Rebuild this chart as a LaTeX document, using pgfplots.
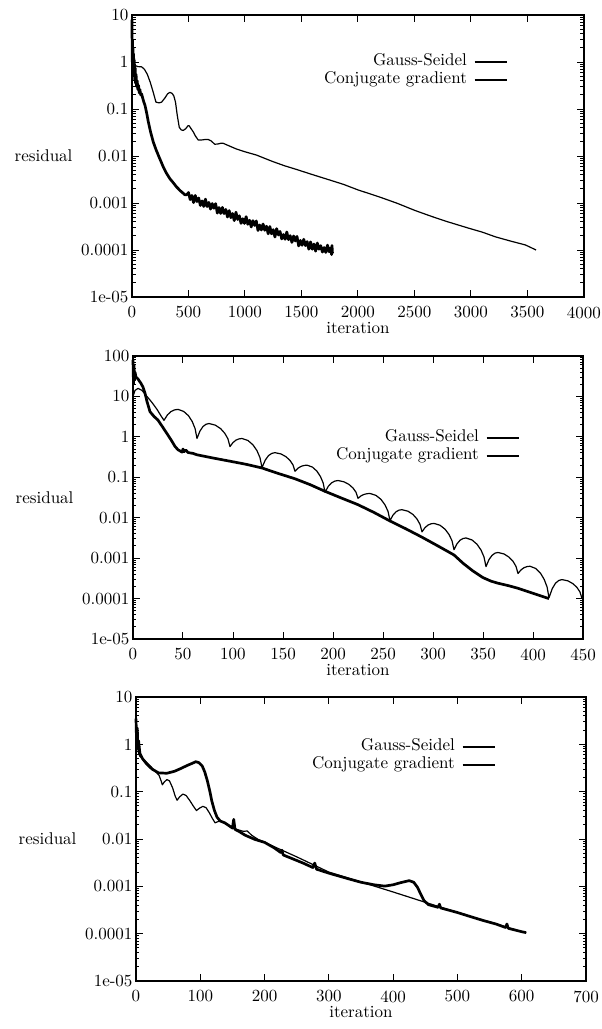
\documentclass[border=0pt]{standalone}
\usepackage{fontspec}
\setmainfont{lmroman10-regular.otf}
\usepackage{pgfplots}
\pgfplotsset{compat=1.18}
\tikzset{
 gs/.style={black, line width=1.2pt, line join=round},
 cg/.style={black, line width=2.7pt, line join=round},
}
\begin{document}
\begin{tikzpicture}
\path[use as bounding box] (0pt,0pt) rectangle (602pt,-1029pt);
% ---------------- plot 1 ----------------
\begin{axis}[at={(132pt,-297pt)}, anchor=south west,
  scale only axis, width=452pt, height=282pt,
  ymode=log, xmin=0, xmax=4000, ymin=1e-5, ymax=10,
  clip=false,
  font=\fontsize{17}{20}\selectfont,
  axis line style={line width=1.5pt},
  tick style={black, line width=1pt},
  major tick length=7pt, minor tick length=3.5pt, tick align=inside,
  xtick={0,500,1000,1500,2000,2500,3000,3500,4000},
  xticklabels={0,500,1000,1500,2000,2500,3000,3500,4000},
  xticklabel style={yshift=-6pt},
  ytick={1e-5,1e-4,1e-3,1e-2,1e-1,1,10},
  yticklabels={1e-05,0.0001,0.001,0.01,0.1,1,10},
  minor ytick={2e-5,3e-5,4e-5,5e-5,6e-5,7e-5,8e-5,9e-5,
   2e-4,3e-4,4e-4,5e-4,6e-4,7e-4,8e-4,9e-4,
   2e-3,3e-3,4e-3,5e-3,6e-3,7e-3,8e-3,9e-3,
   2e-2,3e-2,4e-2,5e-2,6e-2,7e-2,8e-2,9e-2,
   0.2,0.3,0.4,0.5,0.6,0.7,0.8,0.9,2,3,4,5,6,7,8,9},
  xlabel={iteration}, ylabel={residual},
  every axis y label/.style={at={(rel axis cs:0,0.5)}, anchor=east, xshift=-56pt},
  every axis x label/.style={at={(rel axis cs:0.5,0)}, anchor=north, yshift=-22pt},
  legend style={draw=none, fill=none, inner sep=0pt, outer sep=0pt, column sep=5pt,
    nodes={inner sep=1.5pt, text height=11pt, text depth=4pt},
    at={(rel axis cs:0.832,0.865)}, anchor=north east},
  legend cell align=right,
  legend plot pos=right,
  legend image code/.code={\draw[#1] (0pt,0pt) -- (32pt,0pt);}]
\addplot[gs] coordinates {
(0,2.0) (10,1.2) (25,0.85) (50,0.8) (85,0.79) (110,0.7) (135,0.55) (160,0.38) (185,0.24)
(212,0.14) (240,0.135) (262,0.14) (290,0.17) (315,0.21) (335,0.226) (355,0.215) (370,0.19)
(385,0.14) (400,0.075) (418,0.041) (435,0.036) (453,0.035) (475,0.038) (495,0.044) (506,0.044)
(520,0.039) (541,0.033) (560,0.027) (585,0.022) (620,0.022) (650,0.0225) (674,0.0225)
(700,0.021) (732,0.0178) (760,0.018) (790,0.0188) (806,0.0187) (850,0.0168) (924,0.0141)
(1000,0.0123) (1100,0.0105) (1247,0.0076) (1350,0.0062) (1453,0.0052) (1600,0.0040)
(1747,0.0031) (1870,0.0025) (2000,0.0019) (2188,0.00135) (2350,0.00098) (2500,0.00070)
(2640,0.00053) (2777,0.00041) (2982,0.00029) (3100,0.00024) (3218,0.00019) (3350,0.000155)
(3482,0.000128) (3576,0.0001)
};
\addlegendentry{Gauss-Seidel}
\addplot[cg] coordinates {
(0,8) (2,1.0) (4,3) (6,0.8) (8,2) (11,0.6) (14,1.5) (17,0.5) (20,1.1) (24,0.42) (28,0.75)
(32,0.35) (36,0.55) (41,0.3) (46,0.4) (52,0.26) (58,0.32) (64,0.22) (70,0.26) (77,0.2)
(85,0.21) (95,0.17) (105,0.14) (115,0.12) (130,0.082) (144,0.054) (165,0.032) (188,0.02)
(210,0.0142) (232,0.0105) (255,0.0078) (276,0.0059) (305,0.0043) (335,0.0033) (365,0.0027)
(394,0.0022) (430,0.0018) (468,0.0015) (485,0.0015)
(500,1.67e-3) (515,1.18e-3) (530,1.45e-3) (545,1.02e-3) (560,1.45e-3) (575,1.07e-3)
(590,1.28e-3) (605,8.85e-4) (620,1.11e-3) (635,8.43e-4) (650,1.21e-3) (665,8.39e-4)
(680,1.03e-3) (695,7.42e-4) (710,9.75e-4) (725,7.73e-4) (740,9.71e-4) (755,6.10e-4)
(770,8.03e-4) (785,5.99e-4) (800,8.06e-4) (815,5.96e-4) (830,7.30e-4) (845,5.04e-4)
(860,6.90e-4) (875,4.88e-4) (890,5.98e-4) (905,4.22e-4) (920,6.37e-4) (935,4.46e-4)
(950,5.36e-4) (965,3.69e-4) (980,4.64e-4) (995,3.67e-4) (1010,5.13e-4) (1025,3.52e-4)
(1040,4.30e-4) (1055,3.09e-4) (1070,4.22e-4) (1085,3.33e-4) (1100,4.15e-4) (1115,2.60e-4)
(1130,3.40e-4) (1145,2.67e-4) (1160,3.58e-4) (1175,2.63e-4) (1190,3.21e-4) (1205,2.21e-4)
(1220,3.16e-4) (1235,2.21e-4) (1250,2.71e-4) (1265,1.89e-4) (1280,2.85e-4) (1295,2.09e-4)
(1310,2.49e-4) (1325,1.72e-4) (1340,2.14e-4) (1355,1.69e-4) (1370,2.42e-4) (1385,1.66e-4)
(1400,2.02e-4) (1415,1.45e-4) (1430,1.99e-4) (1445,1.56e-4) (1460,1.95e-4) (1475,1.22e-4)
(1490,1.60e-4) (1505,1.26e-4) (1520,1.69e-4) (1535,1.24e-4) (1550,1.51e-4) (1565,1.04e-4)
(1580,1.49e-4) (1595,1.04e-4) (1610,1.34e-4) (1625,9.44e-5) (1640,1.41e-4) (1655,1.04e-4)
(1670,1.24e-4) (1685,9.05e-5) (1700,1.13e-4) (1715,8.88e-5) (1730,1.27e-4) (1745,9.14e-5)
(1760,1.12e-4) (1766,8.0e-5) (1770,1.25e-4) (1774,8.5e-5)
};
\addlegendentry{Conjugate gradient}
\end{axis}
% ---------------- plot 2 ----------------
\begin{axis}[at={(133pt,-639pt)}, anchor=south west,
  scale only axis, width=450pt, height=283pt,
  ymode=log, xmin=0, xmax=450, ymin=1e-5, ymax=100,
  clip=false,
  font=\fontsize{17}{20}\selectfont,
  axis line style={line width=1.5pt},
  tick style={black, line width=1pt},
  major tick length=7pt, minor tick length=3.5pt, tick align=inside,
  xtick={0,50,100,150,200,250,300,350,400,450},
  xticklabels={0,50,100,150,200,250,300,350,400,450},
  xticklabel style={yshift=-6pt},
  ytick={1e-5,1e-4,1e-3,1e-2,1e-1,1,10,100},
  yticklabels={1e-05,0.0001,0.001,0.01,0.1,1,10,100},
  minor ytick={2e-5,3e-5,4e-5,5e-5,6e-5,7e-5,8e-5,9e-5,
   2e-4,3e-4,4e-4,5e-4,6e-4,7e-4,8e-4,9e-4,
   2e-3,3e-3,4e-3,5e-3,6e-3,7e-3,8e-3,9e-3,
   2e-2,3e-2,4e-2,5e-2,6e-2,7e-2,8e-2,9e-2,
   0.2,0.3,0.4,0.5,0.6,0.7,0.8,0.9,2,3,4,5,6,7,8,9,20,30,40,50,60,70,80,90},
  xlabel={iteration}, ylabel={residual},
  every axis y label/.style={at={(rel axis cs:0,0.5)}, anchor=east, xshift=-56pt},
  every axis x label/.style={at={(rel axis cs:0.5,0)}, anchor=north, yshift=-22pt},
  legend style={draw=none, fill=none, inner sep=0pt, outer sep=0pt, column sep=5pt,
    nodes={inner sep=1.5pt, text height=11pt, text depth=4pt},
    at={(rel axis cs:0.86,0.742)}, anchor=north east},
  legend cell align=right,
  legend plot pos=right,
  legend image code/.code={\draw[#1] (0pt,0pt) -- (32pt,0pt);}]
\addplot[gs] coordinates {
(0,10) (2,14.1) (5,15.8) (9,14.1) (14,10) (19,7.08) (24,4.79) (28,3.31) (31,2.57)
(34.5,3.51) (38,4.23) (41.5,4.64) (45,4.79) (50.7,4.26) (55.5,3.33) (59.25,2.39) (62.1,1.60)
(64,0.912) (67,1.40) (70,1.80) (73,2.05) (76,2.14) (82.3,1.95) (87.6,1.60) (91.75,1.23)
(94.9,0.90) (97,0.575) (100,0.724) (103,0.832) (106,0.891) (109,0.912) (115,0.812)
(120,0.634) (124,0.455) (127,0.305) (129,0.174) (132.25,0.266) (135.5,0.344) (138.75,0.390)
(142,0.407) (148,0.378) (153,0.323) (157,0.261) (160,0.202) (162,0.141) (165,0.168)
(168,0.186) (171,0.196) (174,0.200) (179.4,0.179) (183.9,0.142) (187.5,0.104) (190.2,0.0721)
(192,0.0427) (195.25,0.0596) (198.5,0.0728) (201.75,0.0804) (205,0.0832) (211,0.0774)
(216,0.0665) (220,0.0543) (223,0.0427) (225,0.0302) (228,0.0347) (231,0.0377) (234,0.0393)
(237,0.0398) (243,0.0357) (248,0.0284) (252,0.0208) (255,0.0144) (257,0.00851) (260,0.0116)
(263,0.0140) (266,0.0154) (269,0.0158) (275,0.0145) (280,0.0120) (284,0.00931) (287,0.00687)
(289,0.00447) (292,0.00569) (295,0.00658) (298,0.00707) (301,0.00724) (307,0.00652)
(312,0.00521) (316,0.00386) (319,0.00270) (321,0.00162) (324,0.00226) (327,0.00277)
(330,0.00306) (333,0.00316) (339,0.00282) (344,0.00221) (348,0.00159) (351,0.00107)
(353,0.000617) (356,0.000923) (359,0.00117) (362,0.00133) (365,0.00138) (371,0.00127)
(376,0.00106) (380,0.000836) (383,0.000627) (385,0.000417) (388,0.000513) (391,0.000581)
(394,0.000618) (397,0.000631) (402.7,0.000556) (407.5,0.000425) (411.25,0.000296)
(414.1,0.000193) (416,0.000105) (419.25,0.000176) (422.5,0.000240) (425.75,0.000280)
(429,0.000295) (435,0.000274) (440,0.000233) (444,0.000188) (447,0.000145) (449,0.0001)
};
\addlegendentry{Gauss-Seidel}
\addplot[cg] coordinates {
(0,80) (0.5,20) (1,60) (1.5,25) (2,40) (3,30) (5,27) (8,21) (10,17) (12,12) (14,7.5)
(17,4.2) (21,3.2) (25,2.6) (30,1.7) (34,1.2) (38,0.85) (42,0.58) (45,0.48) (47,0.45)
(49,0.42) (50,0.5) (51,0.43) (53,0.47) (55,0.41) (60,0.39) (64,0.36) (80,0.30) (97,0.25)
(113,0.21) (129,0.17) (145,0.125) (162,0.092) (177,0.066) (192,0.045) (208,0.031)
(225,0.021) (241,0.0135) (257,0.0083) (273,0.0053) (289,0.0033) (305,0.002) (321,0.0012)
(330,0.00075) (340,0.00048) (350,0.00033) (358,0.00027) (365,0.00024) (375,0.00021)
(385,0.00018) (400,0.000135) (416,0.0001)
};
\addlegendentry{Conjugate gradient}
\end{axis}
% ---------------- plot 3 ----------------
\begin{axis}[at={(136pt,-981pt)}, anchor=south west,
  scale only axis, width=450pt, height=284pt,
  ymode=log, xmin=0, xmax=700, ymin=1e-5, ymax=10,
  clip=false,
  font=\fontsize{17}{20}\selectfont,
  axis line style={line width=1.5pt},
  tick style={black, line width=1pt},
  major tick length=7pt, minor tick length=3.5pt, tick align=inside,
  xtick={0,100,200,300,400,500,600,700},
  xticklabels={0,100,200,300,400,500,600,700},
  xticklabel style={yshift=-6pt},
  ytick={1e-5,1e-4,1e-3,1e-2,1e-1,1,10},
  yticklabels={1e-05,0.0001,0.001,0.01,0.1,1,10},
  minor ytick={2e-5,3e-5,4e-5,5e-5,6e-5,7e-5,8e-5,9e-5,
   2e-4,3e-4,4e-4,5e-4,6e-4,7e-4,8e-4,9e-4,
   2e-3,3e-3,4e-3,5e-3,6e-3,7e-3,8e-3,9e-3,
   2e-2,3e-2,4e-2,5e-2,6e-2,7e-2,8e-2,9e-2,
   0.2,0.3,0.4,0.5,0.6,0.7,0.8,0.9,2,3,4,5,6,7,8,9},
  xlabel={iteration}, ylabel={residual},
  every axis y label/.style={at={(rel axis cs:0,0.5)}, anchor=east, xshift=-56pt},
  every axis x label/.style={at={(rel axis cs:0.5,0)}, anchor=north, yshift=-22pt},
  legend style={draw=none, fill=none, inner sep=0pt, outer sep=0pt, column sep=5pt,
    nodes={inner sep=1.5pt, text height=11pt, text depth=4pt},
    at={(rel axis cs:0.80,0.856)}, anchor=north east},
  legend cell align=right,
  legend plot pos=right,
  legend image code/.code={\draw[#1] (0pt,0pt) -- (32pt,0pt);}]
\addplot[gs] coordinates {
(0,2.5) (2,1.0) (4,0.65) (6,0.56) (14,0.45) (22,0.35) (30,0.27) (36,0.22) (39,0.17)
(41,0.14) (44,0.16) (48,0.18) (52,0.17) (57,0.12) (61,0.08) (64,0.066) (68,0.078)
(73,0.089) (78,0.083) (84,0.064) (89,0.05) (94,0.04) (99,0.045) (104,0.049) (109,0.046)
(114,0.036) (119,0.027) (123,0.022) (130,0.024) (136,0.023) (143,0.02) (151,0.017)
(160,0.0155) (167,0.0145) (173,0.0148) (180,0.012) (190,0.0098) (200,0.0085) (250,0.0042)
(300,0.0020) (350,0.00124) (400,0.00076) (450,0.00046) (500,0.00028) (550,0.000176)
(600,0.00011) (607,0.000105)
};
\addlegendentry{Gauss-Seidel}
\addplot[cg] coordinates {
(0,3.5) (1,1.0) (2,2.2) (3,0.8) (4,1.2) (6,0.65) (10,0.5) (17,0.38) (25,0.30) (35,0.25)
(48,0.245) (60,0.27) (70,0.31) (80,0.36) (88,0.40) (93,0.43) (98,0.41) (103,0.35)
(107,0.26) (111,0.17) (115,0.10) (118,0.063) (122,0.04) (126,0.029) (131,0.024)
(138,0.022) (145,0.019) (150,0.017) (152,0.026) (154,0.016) (160,0.0145) (170,0.012)
(185,0.0098) (200,0.0085) (215,0.0065) (225,0.0052) (227,0.0058) (229,0.0046) (240,0.0040)
(260,0.0031) (275,0.0025) (278,0.0031) (281,0.0023) (300,0.0019) (330,0.00145)
(350,0.00122) (370,0.00108) (387,0.00101) (400,0.00108) (412,0.0012) (425,0.00132)
(432,0.00122) (438,0.00095) (443,0.00068) (448,0.0005) (455,0.00041) (470,0.00036)
(472,0.00042) (474,0.00035) (500,0.00028) (520,0.00023) (540,0.00019) (560,0.00016)
(575,0.000135) (577,0.00016) (579,0.00013) (600,0.00011) (607,0.000105)
};
\addlegendentry{Conjugate gradient}
\end{axis}
\end{tikzpicture}
\end{document}
